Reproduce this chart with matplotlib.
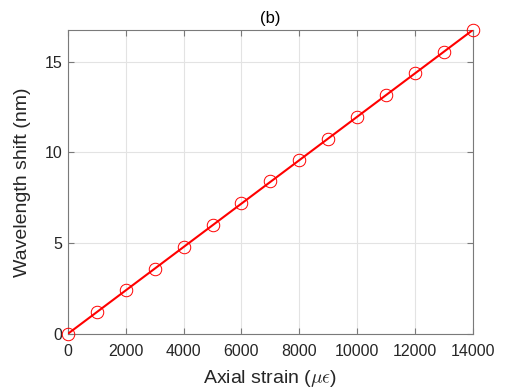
import numpy as np
import matplotlib
matplotlib.use('Agg')
import matplotlib.pyplot as plt

plt.rcParams['font.family'] = ['Liberation Sans', 'DejaVu Sans']
plt.rcParams['mathtext.fontset'] = 'cm'

# measured points
strain = [0, 1000, 2000, 3000, 4000, 5000, 6000, 7000,
          8000, 9000, 10000, 11000, 12000, 13000, 14000]
shift = [0.0, 1.2, 2.4, 3.6, 4.8, 6.0, 7.2, 8.4,
         9.56, 10.76, 11.95, 13.15, 14.35, 15.55, 16.73]
x_ticks = [0, 2000, 4000, 6000, 8000, 10000, 12000, 14000]
y_ticks = [0, 5, 10, 15]

RED = '#ff0000'
AX_GRAY = '#262626'

fig = plt.figure(figsize=(5.23, 3.92), dpi=100)
ax = fig.add_axes([0.130, 0.148, 0.774, 0.775])

# linear fit line
coef = np.polyfit(strain, shift, 1)
xs = np.array([strain[0], strain[-1]])
ax.plot(xs, np.polyval(coef, xs), color=RED, lw=1.5, zorder=3)
ax.plot(strain, shift, 'o', mfc='none', mec=RED, ms=9, mew=0.7,
        zorder=4, clip_on=False)

ax.set_xlim(0, 14000)
ax.set_ylim(0, 16.73)
ax.set_xticks(x_ticks)
ax.set_yticks(y_ticks)
ax.grid(True, color='#e3e3e3', lw=0.8)
ax.set_axisbelow(True)

for s in ax.spines.values():
    s.set_color('#7a7a7a')
    s.set_linewidth(0.8)
ax.tick_params(direction='in', top=True, right=True, length=4,
               color='#7a7a7a', labelcolor=AX_GRAY, labelsize=11.5)
ax.tick_params(axis='x', pad=7)
ax.tick_params(axis='y', pad=4)

ax.set_xlabel(r'Axial strain ($\mu\epsilon$)', fontsize=14, color=AX_GRAY, labelpad=7)
ax.set_ylabel('Wavelength shift (nm)', fontsize=14, color=AX_GRAY, labelpad=10)
ax.set_title('(b)', fontsize=12, color='k', pad=5)

fig.savefig('out.png', dpi=100)
